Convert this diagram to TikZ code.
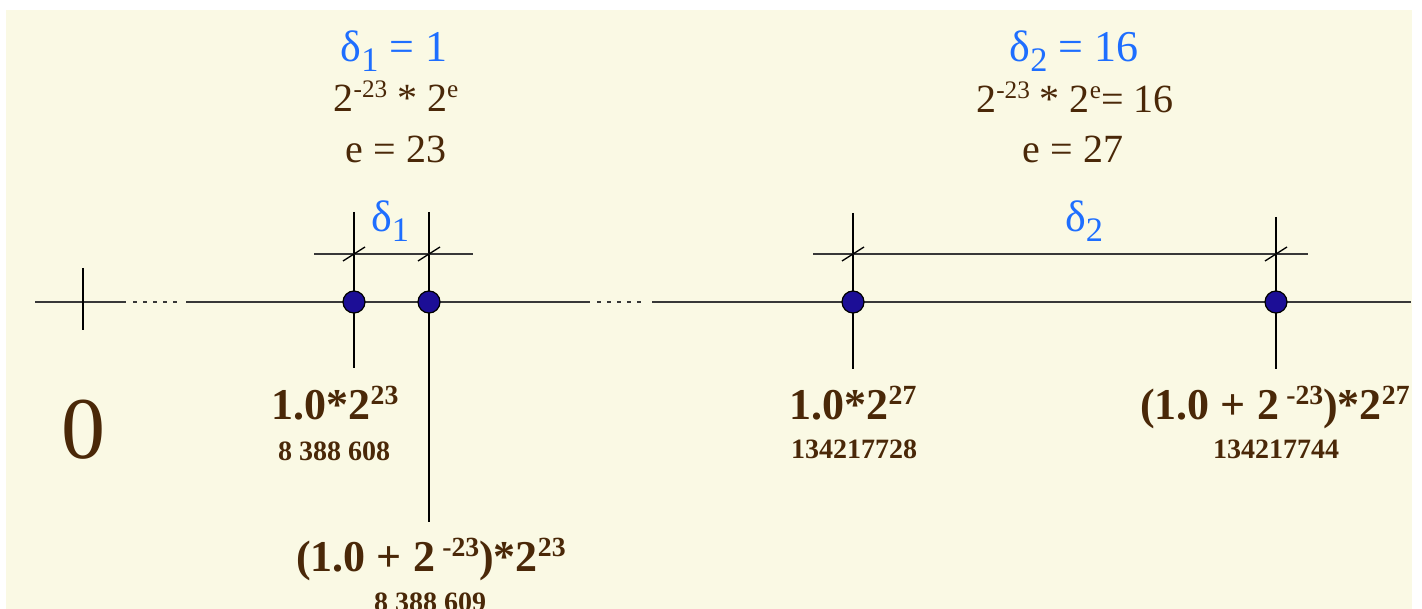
\documentclass[tikz,border=0pt]{standalone}
\usepackage{fontspec}
\setmainfont{Liberation Serif}
\definecolor{bg}{HTML}{FAF9E4}
\definecolor{txt}{HTML}{4A2808}
\definecolor{blu}{HTML}{1E6EFF}
\definecolor{dotc}{HTML}{1C0E96}
\definecolor{axisc}{HTML}{383838}
\newcommand\up[1]{\raisebox{0.36em}{\scalebox{0.63}{#1}}}
\newcommand\dn[1]{\raisebox{-0.22em}{\scalebox{0.78}{#1}}}
\begin{document}
\begin{tikzpicture}[x=0.75pt,y=-0.75pt,
  dot/.style={circle,draw=black,line width=0.9pt,fill=dotc,minimum size=16.5pt,inner sep=0pt},
  axisline/.style={axisc,line width=1.7pt},
  dotline/.style={axisc,line width=1.7pt,dash pattern=on 3pt off 4.5pt},
  vline/.style={black,line width=1.9pt},
  dimline/.style={axisc,line width=1.2pt},
  slash/.style={black,line width=1pt},
  bluetxt/.style={text=blu,font=\fontsize{33}{36}\selectfont,inner sep=0pt,anchor=base},
  calctxt/.style={text=txt,font=\fontsize{30}{34}\selectfont,inner sep=0pt,anchor=base},
  bigtxt/.style={text=txt,font=\bfseries\fontsize{33}{36}\selectfont,inner sep=0pt,anchor=base},
  smalltxt/.style={text=txt,font=\bfseries\fontsize{21}{23}\selectfont,inner sep=0pt,anchor=base},
]
\useasboundingbox (0,0) rectangle (1422,609);
\fill[white] (0,0) rectangle (1422,609);
\fill[bg] (6,10) rectangle (1412,609);

% axis coordinates
\coordinate (a0) at (35,302);
\coordinate (a1) at (126,302);
\coordinate (a2) at (133,302);
\coordinate (a3) at (182,302);
\coordinate (a4) at (186,302);
\coordinate (a5) at (590,302);
\coordinate (a6) at (597,302);
\coordinate (a7) at (646,302);
\coordinate (a8) at (652,302);
\coordinate (a9) at (1411,302);
\draw[axisline] (a0) -- (a1);
\draw[dotline] (a2) -- (a3);
\draw[axisline] (a4) -- (a5);
\draw[dotline] (a6) -- (a7);
\draw[axisline] (a8) -- (a9);

% zero tick
\coordinate (z0) at (83,268);
\coordinate (z1) at (83,330);
\draw[vline] (z0) -- (z1);
\node[text=txt,font=\fontsize{66}{70}\selectfont,inner sep=0pt,anchor=base] (zero) at (83,459) {0};

% vertical lines
\coordinate (v1t) at (354,212); \coordinate (v1b) at (354,368);
\coordinate (v2t) at (429,212); \coordinate (v2b) at (429,522);
\coordinate (v3t) at (853,213); \coordinate (v3b) at (853,369);
\coordinate (v4t) at (1276,217); \coordinate (v4b) at (1276,369);
\draw[vline] (v1t) -- (v1b);
\draw[vline] (v2t) -- (v2b);
\draw[vline] (v3t) -- (v3b);
\draw[vline] (v4t) -- (v4b);

% dimension lines
\coordinate (d1a) at (314,254); \coordinate (d1b) at (473,254);
\coordinate (d2a) at (813,254); \coordinate (d2b) at (1308,254);
\draw[dimline] (d1a) -- (d1b);
\draw[dimline] (d2a) -- (d2b);

% slashes
\foreach \x/\n in {354/s1,429/s2,853/s3,1276/s4}{
  \coordinate (\n a) at (\x-11,261);
  \coordinate (\n b) at (\x+11,247);
  \draw[slash] (\n a) -- (\n b);
}

% dots
\node[dot] (p1) at (354,302) {};
\node[dot] (p2) at (429,302) {};
\node[dot] (p3) at (853,302) {};
\node[dot] (p4) at (1276,302) {};

% top texts left
\node[bluetxt] (t1) at (394,62) {δ\dn{1} = 1};
\node[calctxt] (t2) at (396,112) {2\up{-23} * 2\up{e}};
\node[calctxt] (t3) at (396,163) {e = 23};
\node[bluetxt] (dl1) at (390,232) {δ\dn{1}};

% top texts right
\node[bluetxt] (u1) at (1074,62) {δ\dn{2} = 16};
\node[calctxt] (u2) at (1075,113) {2\up{-23} * 2\up{e}= 16};
\node[calctxt] (u3) at (1073,163) {e = 27};
\node[bluetxt] (dl2) at (1084,232) {δ\dn{2}};

% bottom labels
\node[bigtxt] (b1) at (335,420) {1.0*2\up{23}};
\node[smalltxt] (n1) at (334,461) {8 388 608};
\node[bigtxt] (b2) at (431,572) {(1.0 + 2\,\up{-23})*2\up{23}};
\node[smalltxt] (n2) at (430,612) {8 388 609};
\node[bigtxt] (b3) at (853,420) {1.0*2\up{27}};
\node[smalltxt] (n3) at (854,459) {134217728};
\node[bigtxt] (b4) at (1275,420) {(1.0 + 2\,\up{-23})*2\up{27}};
\node[smalltxt] (n4) at (1276,459) {134217744};
\end{tikzpicture}
\end{document}
